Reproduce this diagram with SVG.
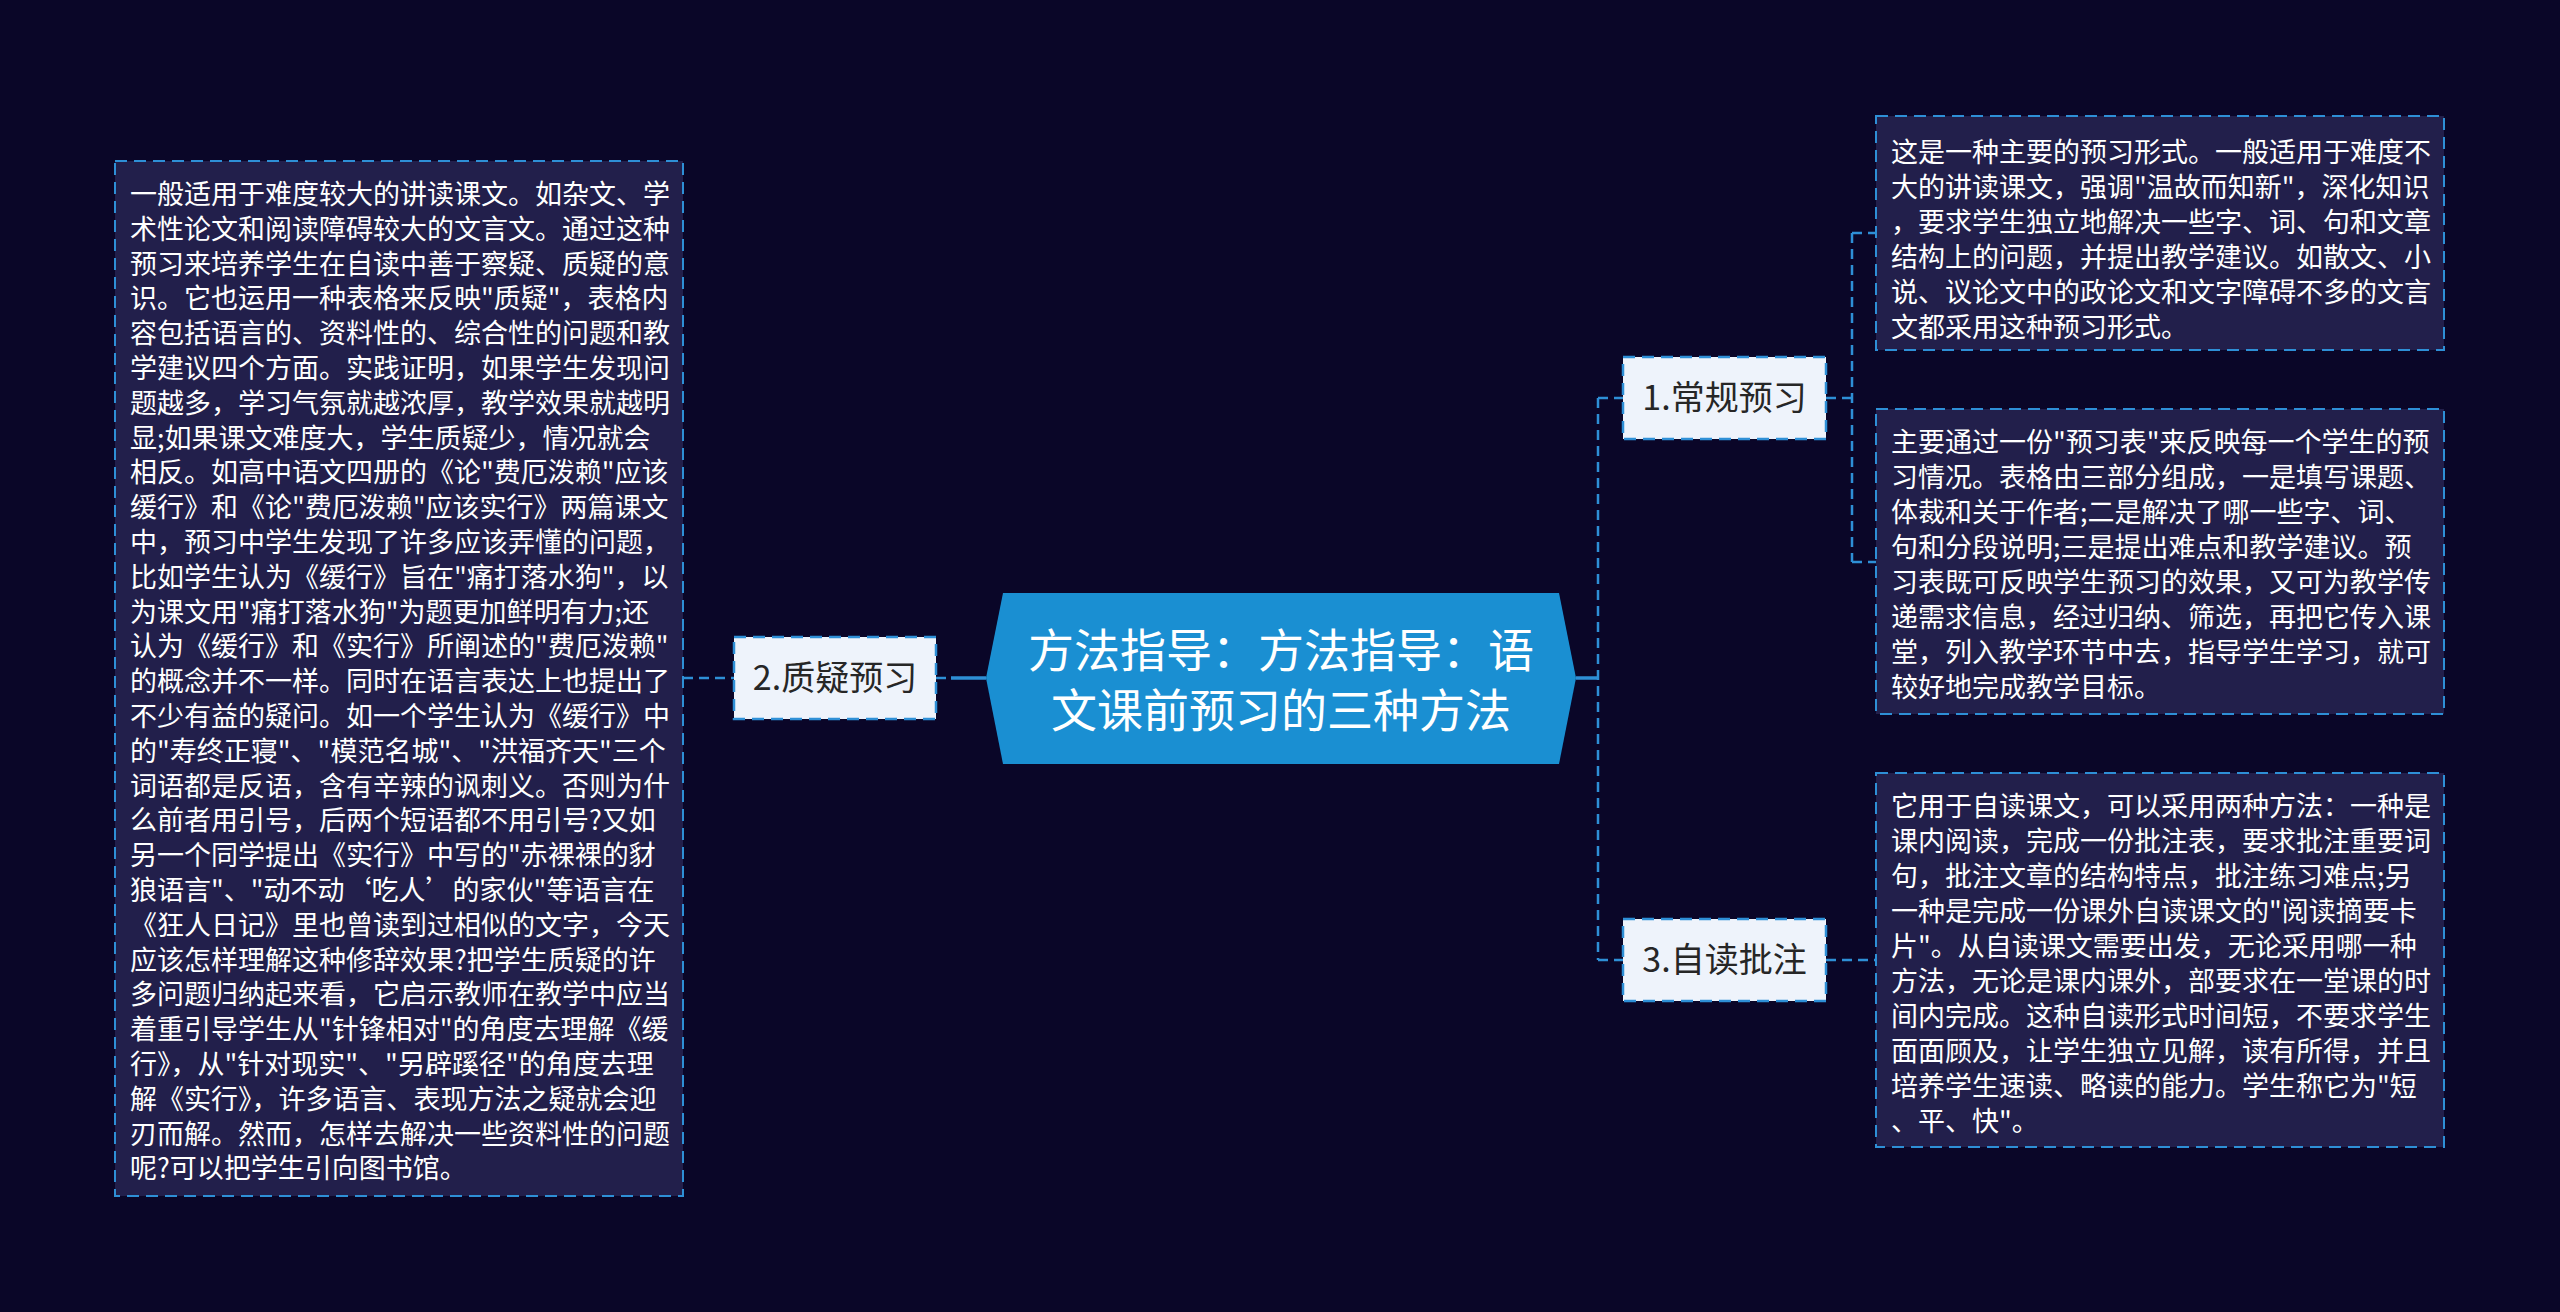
<svg xmlns="http://www.w3.org/2000/svg" width="2560" height="1312" viewBox="0 0 2560 1312">
<style>
.bg{fill:#0a0628}
.box{fill:#221f4b;stroke:#2e8fd6;stroke-width:2;stroke-dasharray:12 7}
.node{fill:#eef3fb;stroke:#2e8fd6;stroke-width:2.5;stroke-dasharray:12 7}
.hex{fill:#1a8fd2}
.body{font-family:"Noto Sans CJK SC","Noto Sans",sans-serif;font-size:27px;fill:#ffffff}
.lbl{font-family:"Noto Sans CJK SC","Noto Sans",sans-serif;font-size:34px;fill:#262626;text-anchor:middle}
.title{font-family:"Noto Sans CJK SC","Noto Sans",sans-serif;font-size:46px;fill:#ffffff;text-anchor:middle}
.dash{fill:none;stroke:#2e8fd6;stroke-width:2.5;stroke-dasharray:10 6}
.solid{fill:none;stroke:#2e8fd6;stroke-width:3.5}
</style>
<rect class="bg" x="0" y="0" width="2560" height="1312"/>

<g id="connectors">
  <path class="solid" d="M1576 678 H1598"/>
  <path class="dash" d="M1598 398 V960"/>
  <path class="dash" d="M1598 398 H1623"/>
  <path class="dash" d="M1598 960 H1623"/>
  <path class="dash" d="M1826 398 H1852"/>
  <path class="dash" d="M1852 233 V562"/>
  <path class="dash" d="M1852 233 H1876"/>
  <path class="dash" d="M1852 562 H1876"/>
  <path class="dash" d="M1826 960 H1876"/>
  <path class="solid" d="M951 678 H986"/>
  <path class="dash" d="M936 678 H951"/>
  <path class="dash" d="M683 678 H734"/>
</g>

<g id="root">
  <polygon class="hex" points="986,678 1003,593 1559,593 1576,678 1559,764 1003,764"/>
  <text class="title" x="1281" y="667">方法指导：方法指导：语</text>
  <text class="title" x="1281" y="727">文课前预习的三种方法</text>
</g>

<g id="n1">
  <rect class="node" x="1623" y="357" width="203" height="82"/>
  <text class="lbl" x="1724.5" y="410">1.常规预习</text>
</g>
<g id="n2">
  <rect class="node" x="734" y="637" width="202" height="82"/>
  <text class="lbl" x="835" y="690">2.质疑预习</text>
</g>
<g id="n3">
  <rect class="node" x="1623" y="919" width="203" height="82"/>
  <text class="lbl" x="1724.5" y="972">3.自读批注</text>
</g>

<g id="t1">
  <rect class="box" x="1876" y="116" width="568" height="234"/>
  <text class="body">
    <tspan x="1891" y="162">这是一种主要的预习形式。一般适用于难度不</tspan>
    <tspan x="1891" y="197">大的讲读课文，强调"温故而知新"，深化知识</tspan>
    <tspan x="1891" y="232">，要求学生独立地解决一些字、词、句和文章</tspan>
    <tspan x="1891" y="267">结构上的问题，并提出教学建议。如散文、小</tspan>
    <tspan x="1891" y="302">说、议论文中的政论文和文字障碍不多的文言</tspan>
    <tspan x="1891" y="337">文都采用这种预习形式。</tspan>
  </text>
</g>

<g id="t2">
  <rect class="box" x="1876" y="409" width="568" height="305"/>
  <text class="body">
    <tspan x="1891" y="452">主要通过一份"预习表"来反映每一个学生的预</tspan>
    <tspan x="1891" y="487">习情况。表格由三部分组成，一是填写课题、</tspan>
    <tspan x="1891" y="522">体裁和关于作者;二是解决了哪一些字、词、</tspan>
    <tspan x="1891" y="557">句和分段说明;三是提出难点和教学建议。预</tspan>
    <tspan x="1891" y="592">习表既可反映学生预习的效果，又可为教学传</tspan>
    <tspan x="1891" y="627">递需求信息，经过归纳、筛选，再把它传入课</tspan>
    <tspan x="1891" y="662">堂，列入教学环节中去，指导学生学习，就可</tspan>
    <tspan x="1891" y="697">较好地完成教学目标。</tspan>
  </text>
</g>

<g id="t3">
  <rect class="box" x="1876" y="773" width="568" height="374"/>
  <text class="body">
    <tspan x="1891" y="816">它用于自读课文，可以采用两种方法：一种是</tspan>
    <tspan x="1891" y="851">课内阅读，完成一份批注表，要求批注重要词</tspan>
    <tspan x="1891" y="886">句，批注文章的结构特点，批注练习难点;另</tspan>
    <tspan x="1891" y="921">一种是完成一份课外自读课文的"阅读摘要卡</tspan>
    <tspan x="1891" y="956">片"。从自读课文需要出发，无论采用哪一种</tspan>
    <tspan x="1891" y="991">方法，无论是课内课外，部要求在一堂课的时</tspan>
    <tspan x="1891" y="1026">间内完成。这种自读形式时间短，不要求学生</tspan>
    <tspan x="1891" y="1061">面面顾及，让学生独立见解，读有所得，并且</tspan>
    <tspan x="1891" y="1096">培养学生速读、略读的能力。学生称它为"短</tspan>
    <tspan x="1891" y="1131">、平、快"。</tspan>
  </text>
</g>

<g id="t4">
  <rect class="box" x="115" y="161" width="568" height="1035"/>
  <text class="body">
    <tspan x="130" y="204">一般适用于难度较大的讲读课文。如杂文、学</tspan>
    <tspan x="130" y="238.8">术性论文和阅读障碍较大的文言文。通过这种</tspan>
    <tspan x="130" y="273.6">预习来培养学生在自读中善于察疑、质疑的意</tspan>
    <tspan x="130" y="308.4">识。它也运用一种表格来反映"质疑"，表格内</tspan>
    <tspan x="130" y="343.2">容包括语言的、资料性的、综合性的问题和教</tspan>
    <tspan x="130" y="378">学建议四个方面。实践证明，如果学生发现问</tspan>
    <tspan x="130" y="412.8">题越多，学习气氛就越浓厚，教学效果就越明</tspan>
    <tspan x="130" y="447.6">显;如果课文难度大，学生质疑少，情况就会</tspan>
    <tspan x="130" y="482.4">相反。如高中语文四册的《论"费厄泼赖"应该</tspan>
    <tspan x="130" y="517.2">缓行》和《论"费厄泼赖"应该实行》两篇课文</tspan>
    <tspan x="130" y="552">中，预习中学生发现了许多应该弄懂的问题，</tspan>
    <tspan x="130" y="586.8">比如学生认为《缓行》旨在"痛打落水狗"，以</tspan>
    <tspan x="130" y="621.6">为课文用"痛打落水狗"为题更加鲜明有力;还</tspan>
    <tspan x="130" y="656.4">认为《缓行》和《实行》所阐述的"费厄泼赖"</tspan>
    <tspan x="130" y="691.2">的概念并不一样。同时在语言表达上也提出了</tspan>
    <tspan x="130" y="726">不少有益的疑问。如一个学生认为《缓行》中</tspan>
    <tspan x="130" y="760.8">的"寿终正寝"、"模范名城"、"洪福齐天"三个</tspan>
    <tspan x="130" y="795.6">词语都是反语，含有辛辣的讽刺义。否则为什</tspan>
    <tspan x="130" y="830.4">么前者用引号，后两个短语都不用引号?又如</tspan>
    <tspan x="130" y="865.2">另一个同学提出《实行》中写的"赤裸裸的豺</tspan>
    <tspan x="130" y="900">狼语言"、"动不动‘吃人’的家伙"等语言在</tspan>
    <tspan x="130" y="934.8">《狂人日记》里也曾读到过相似的文字，今天</tspan>
    <tspan x="130" y="969.6">应该怎样理解这种修辞效果?把学生质疑的许</tspan>
    <tspan x="130" y="1004.4">多问题归纳起来看，它启示教师在教学中应当</tspan>
    <tspan x="130" y="1039.2">着重引导学生从"针锋相对"的角度去理解《缓</tspan>
    <tspan x="130" y="1074">行》，从"针对现实"、"另辟蹊径"的角度去理</tspan>
    <tspan x="130" y="1108.8">解《实行》，许多语言、表现方法之疑就会迎</tspan>
    <tspan x="130" y="1143.6">刃而解。然而，怎样去解决一些资料性的问题</tspan>
    <tspan x="130" y="1178.4">呢?可以把学生引向图书馆。</tspan>
  </text>
</g>
</svg>
